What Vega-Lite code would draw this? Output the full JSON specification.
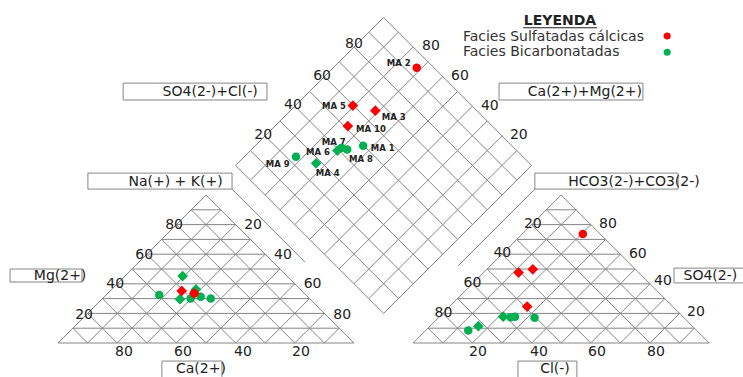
{
  "$schema": "https://vega.github.io/schema/vega-lite/v6.json",
  "width": 743,
  "height": 377,
  "autosize": "none",
  "padding": 0,
  "background": "white",
  "config": {
    "view": {"stroke": null},
    "text": {"font": "DejaVu Sans", "fontSize": 14, "fill": "#222222"}
  },
  "datasets": {
    "grid": [
      {"x": 0, "y": 0, "x2": 100, "y2": 0}, {"x": 0, "y": 0, "x2": 50, "y2": 50}, {"x": 100, "y": 0, "x2": 50, "y2": 50},
      {"x": 5, "y": 5, "x2": 95, "y2": 5}, {"x": 10, "y": 10, "x2": 90, "y2": 10}, {"x": 15, "y": 15, "x2": 85, "y2": 15},
      {"x": 20, "y": 20, "x2": 80, "y2": 20}, {"x": 25, "y": 25, "x2": 75, "y2": 25}, {"x": 30, "y": 30, "x2": 70, "y2": 30},
      {"x": 35, "y": 35, "x2": 65, "y2": 35}, {"x": 40, "y": 40, "x2": 60, "y2": 40}, {"x": 45, "y": 45, "x2": 55, "y2": 45},
      {"x": 10, "y": 0, "x2": 5, "y2": 5}, {"x": 20, "y": 0, "x2": 10, "y2": 10}, {"x": 30, "y": 0, "x2": 15, "y2": 15},
      {"x": 40, "y": 0, "x2": 20, "y2": 20}, {"x": 50, "y": 0, "x2": 25, "y2": 25}, {"x": 60, "y": 0, "x2": 30, "y2": 30},
      {"x": 70, "y": 0, "x2": 35, "y2": 35}, {"x": 80, "y": 0, "x2": 40, "y2": 40}, {"x": 90, "y": 0, "x2": 45, "y2": 45},
      {"x": 10, "y": 0, "x2": 55, "y2": 45}, {"x": 20, "y": 0, "x2": 60, "y2": 40}, {"x": 30, "y": 0, "x2": 65, "y2": 35},
      {"x": 40, "y": 0, "x2": 70, "y2": 30}, {"x": 50, "y": 0, "x2": 75, "y2": 25}, {"x": 60, "y": 0, "x2": 80, "y2": 20},
      {"x": 70, "y": 0, "x2": 85, "y2": 15}, {"x": 80, "y": 0, "x2": 90, "y2": 10}, {"x": 90, "y": 0, "x2": 95, "y2": 5},
      {"x": 120, "y": 0, "x2": 220, "y2": 0}, {"x": 120, "y": 0, "x2": 170, "y2": 50}, {"x": 220, "y": 0, "x2": 170, "y2": 50},
      {"x": 125, "y": 5, "x2": 215, "y2": 5}, {"x": 130, "y": 10, "x2": 210, "y2": 10}, {"x": 135, "y": 15, "x2": 205, "y2": 15},
      {"x": 140, "y": 20, "x2": 200, "y2": 20}, {"x": 145, "y": 25, "x2": 195, "y2": 25}, {"x": 150, "y": 30, "x2": 190, "y2": 30},
      {"x": 155, "y": 35, "x2": 185, "y2": 35}, {"x": 160, "y": 40, "x2": 180, "y2": 40}, {"x": 165, "y": 45, "x2": 175, "y2": 45},
      {"x": 130, "y": 0, "x2": 125, "y2": 5}, {"x": 140, "y": 0, "x2": 130, "y2": 10}, {"x": 150, "y": 0, "x2": 135, "y2": 15},
      {"x": 160, "y": 0, "x2": 140, "y2": 20}, {"x": 170, "y": 0, "x2": 145, "y2": 25}, {"x": 180, "y": 0, "x2": 150, "y2": 30},
      {"x": 190, "y": 0, "x2": 155, "y2": 35}, {"x": 200, "y": 0, "x2": 160, "y2": 40}, {"x": 210, "y": 0, "x2": 165, "y2": 45},
      {"x": 130, "y": 0, "x2": 175, "y2": 45}, {"x": 140, "y": 0, "x2": 180, "y2": 40}, {"x": 150, "y": 0, "x2": 185, "y2": 35},
      {"x": 160, "y": 0, "x2": 190, "y2": 30}, {"x": 170, "y": 0, "x2": 195, "y2": 25}, {"x": 180, "y": 0, "x2": 200, "y2": 20},
      {"x": 190, "y": 0, "x2": 205, "y2": 15}, {"x": 200, "y": 0, "x2": 210, "y2": 10}, {"x": 210, "y": 0, "x2": 215, "y2": 5},
      {"x": 110, "y": 10, "x2": 60, "y2": 60}, {"x": 115, "y": 15, "x2": 65, "y2": 65}, {"x": 120, "y": 20, "x2": 70, "y2": 70},
      {"x": 125, "y": 25, "x2": 75, "y2": 75}, {"x": 130, "y": 30, "x2": 80, "y2": 80}, {"x": 135, "y": 35, "x2": 85, "y2": 85},
      {"x": 140, "y": 40, "x2": 90, "y2": 90}, {"x": 145, "y": 45, "x2": 95, "y2": 95}, {"x": 150, "y": 50, "x2": 100, "y2": 100},
      {"x": 155, "y": 55, "x2": 105, "y2": 105}, {"x": 160, "y": 60, "x2": 110, "y2": 110},
      {"x": 110, "y": 10, "x2": 160, "y2": 60}, {"x": 105, "y": 15, "x2": 155, "y2": 65}, {"x": 100, "y": 20, "x2": 150, "y2": 70},
      {"x": 95, "y": 25, "x2": 145, "y2": 75}, {"x": 90, "y": 30, "x2": 140, "y2": 80}, {"x": 85, "y": 35, "x2": 135, "y2": 85},
      {"x": 80, "y": 40, "x2": 130, "y2": 90}, {"x": 75, "y": 45, "x2": 125, "y2": 95}, {"x": 70, "y": 50, "x2": 120, "y2": 100},
      {"x": 65, "y": 55, "x2": 115, "y2": 105}, {"x": 60, "y": 60, "x2": 110, "y2": 110},
      {"x": 58.8, "y": 52.0, "x2": 83.4, "y2": 27.4}, {"x": 161.1, "y": 52.0, "x2": 135.1, "y2": 26.0}
    ],
    "boxes": [
      {"x": 22.0, "x2": 70.6, "y": 82.1, "y2": 87.8},
      {"x": 149.0, "x2": 197.6, "y": 82.1, "y2": 87.8},
      {"x": 10.1, "x2": 58.8, "y": 52.0, "y2": 57.4},
      {"x": 161.1, "x2": 209.5, "y": 52.0, "y2": 57.4},
      {"x": -16.2, "x2": 8.1, "y": 20.6, "y2": 25.0},
      {"x": 35.1, "x2": 55.4, "y": -13.0, "y2": -6.1},
      {"x": 208.1, "x2": 233.0, "y": 20.3, "y2": 25.3},
      {"x": 155.4, "x2": 175.3, "y": -13.0, "y2": -6.1}
    ],
    "labels": [
      {"x": 51.4, "y": 84.8, "t": "SO4(2-)+Cl(-)"},
      {"x": 178.0, "y": 84.8, "t": "Ca(2+)+Mg(2+)"},
      {"x": 39.7, "y": 54.4, "t": "Na(+) + K(+)"},
      {"x": 194.6, "y": 54.4, "t": "HCO3(2-)+CO3(2-)"},
      {"x": 0.7, "y": 22.6, "t": "Mg(2+)"},
      {"x": 48.3, "y": -8.9, "t": "Ca(2+)"},
      {"x": 220.4, "y": 22.6, "t": "SO4(2-)"},
      {"x": 167.9, "y": -8.9, "t": "Cl(-)"},
      {"x": 39.2, "y": 39.9, "t": "80"}, {"x": 29.1, "y": 29.7, "t": "60"}, {"x": 19.3, "y": 19.9, "t": "40"}, {"x": 8.8, "y": 9.6, "t": "20"},
      {"x": 65.9, "y": 39.9, "t": "20"}, {"x": 76.0, "y": 29.7, "t": "40"}, {"x": 86.0, "y": 19.8, "t": "60"}, {"x": 96.0, "y": 9.6, "t": "80"},
      {"x": 22.3, "y": -2.9, "t": "80"}, {"x": 42.2, "y": -2.9, "t": "60"}, {"x": 62.5, "y": -2.9, "t": "40"}, {"x": 82.1, "y": -2.9, "t": "20"},
      {"x": 160.4, "y": 40.3, "t": "20"}, {"x": 150.1, "y": 30.3, "t": "40"}, {"x": 140.0, "y": 20.4, "t": "60"}, {"x": 130.2, "y": 10.2, "t": "80"},
      {"x": 185.8, "y": 40.3, "t": "80"}, {"x": 195.9, "y": 30.1, "t": "60"}, {"x": 204.4, "y": 21.1, "t": "40"}, {"x": 215.5, "y": 10.5, "t": "20"},
      {"x": 141.9, "y": -2.9, "t": "20"}, {"x": 162.5, "y": -2.9, "t": "40"}, {"x": 182.1, "y": -2.9, "t": "60"}, {"x": 202.0, "y": -2.9, "t": "80"},
      {"x": 100.0, "y": 101.0, "t": "80"}, {"x": 89.2, "y": 90.2, "t": "60"}, {"x": 79.4, "y": 80.4, "t": "40"}, {"x": 69.3, "y": 70.3, "t": "20"},
      {"x": 126.0, "y": 100.3, "t": "80"}, {"x": 135.8, "y": 90.2, "t": "60"}, {"x": 145.9, "y": 80.1, "t": "40"}, {"x": 155.7, "y": 70.3, "t": "20"}
    ],
    "ma": [
      {"x": 111.1, "y": 94.7, "t": "MA 2"},
      {"x": 89.2, "y": 80.1, "t": "MA 5"},
      {"x": 109.4, "y": 76.5, "t": "MA 3"},
      {"x": 100.7, "y": 72.2, "t": "MA 10"},
      {"x": 89.1, "y": 68.0, "t": "MA 7"},
      {"x": 83.8, "y": 64.6, "t": "MA 6"},
      {"x": 98.3, "y": 62.1, "t": "MA 8"},
      {"x": 105.7, "y": 66.0, "t": "MA 1"},
      {"x": 70.2, "y": 60.4, "t": "MA 9"},
      {"x": 87.1, "y": 57.3, "t": "MA 4"}
    ],
    "points": [
      {"x": 42.1, "y": 22.6, "facies": "Facies Bicarbonatadas", "shape": "diamond"},
      {"x": 46.6, "y": 18.1, "facies": "Facies Bicarbonatadas", "shape": "diamond"},
      {"x": 34.2, "y": 16.2, "facies": "Facies Bicarbonatadas", "shape": "circle"},
      {"x": 41.2, "y": 14.8, "facies": "Facies Bicarbonatadas", "shape": "diamond"},
      {"x": 44.8, "y": 15.0, "facies": "Facies Bicarbonatadas", "shape": "circle"},
      {"x": 48.2, "y": 15.6, "facies": "Facies Bicarbonatadas", "shape": "circle"},
      {"x": 51.6, "y": 15.0, "facies": "Facies Bicarbonatadas", "shape": "circle"},
      {"x": 150.4, "y": 8.9, "facies": "Facies Bicarbonatadas", "shape": "diamond"},
      {"x": 152.9, "y": 8.7, "facies": "Facies Bicarbonatadas", "shape": "circle"},
      {"x": 154.4, "y": 8.9, "facies": "Facies Bicarbonatadas", "shape": "circle"},
      {"x": 161.0, "y": 8.5, "facies": "Facies Bicarbonatadas", "shape": "circle"},
      {"x": 142.0, "y": 5.7, "facies": "Facies Bicarbonatadas", "shape": "diamond"},
      {"x": 138.6, "y": 4.2, "facies": "Facies Bicarbonatadas", "shape": "circle"},
      {"x": 94.4, "y": 65.0, "facies": "Facies Bicarbonatadas", "shape": "diamond"},
      {"x": 95.8, "y": 65.9, "facies": "Facies Bicarbonatadas", "shape": "circle"},
      {"x": 97.7, "y": 65.4, "facies": "Facies Bicarbonatadas", "shape": "circle"},
      {"x": 103.1, "y": 66.6, "facies": "Facies Bicarbonatadas", "shape": "circle"},
      {"x": 80.4, "y": 62.9, "facies": "Facies Bicarbonatadas", "shape": "circle"},
      {"x": 87.2, "y": 60.7, "facies": "Facies Bicarbonatadas", "shape": "diamond"},
      {"x": 46.0, "y": 16.8, "facies": "Facies Sulfatadas cálcicas", "shape": "circle"},
      {"x": 41.8, "y": 17.6, "facies": "Facies Sulfatadas cálcicas", "shape": "diamond"},
      {"x": 46.0, "y": 16.8, "facies": "Facies Sulfatadas cálcicas", "shape": "diamond"},
      {"x": 177.3, "y": 36.8, "facies": "Facies Sulfatadas cálcicas", "shape": "circle"},
      {"x": 155.6, "y": 23.8, "facies": "Facies Sulfatadas cálcicas", "shape": "diamond"},
      {"x": 160.4, "y": 24.9, "facies": "Facies Sulfatadas cálcicas", "shape": "diamond"},
      {"x": 158.5, "y": 12.3, "facies": "Facies Sulfatadas cálcicas", "shape": "diamond"},
      {"x": 121.2, "y": 93.0, "facies": "Facies Sulfatadas cálcicas", "shape": "circle"},
      {"x": 99.6, "y": 80.2, "facies": "Facies Sulfatadas cálcicas", "shape": "diamond"},
      {"x": 107.2, "y": 78.5, "facies": "Facies Sulfatadas cálcicas", "shape": "diamond"},
      {"x": 97.9, "y": 73.3, "facies": "Facies Sulfatadas cálcicas", "shape": "diamond"}
    ],
    "legendtext": [
      {"x": 136.8, "y": 103.5, "t": "Facies Sulfatadas cálcicas"},
      {"x": 136.8, "y": 98.4, "t": "Facies Bicarbonatadas"}
    ],
    "legenddots": [
      {"x": 205.8, "y": 103.7, "facies": "Facies Sulfatadas cálcicas"},
      {"x": 205.8, "y": 98.2, "facies": "Facies Bicarbonatadas"}
    ],
    "title": [{"x": 169.6, "y": 108.9, "t": "LEYENDA"}],
    "underline": [{"x": 157.1, "y": 106.5, "x2": 182.1, "y2": 106.5}]
  },
  "encoding": {
    "x": {"field": "x", "type": "quantitative", "scale": {"domain": [-19.595, 231.419], "nice": false, "zero": false}, "axis": null},
    "y": {"field": "y", "type": "quantitative", "scale": {"domain": [-11.486, 115.878], "nice": false, "zero": false}, "axis": null}
  },
  "layer": [
    {
      "data": {"name": "grid"},
      "mark": {"type": "rule", "color": "#858585", "strokeWidth": 1},
      "encoding": {"x2": {"field": "x2"}, "y2": {"field": "y2"}}
    },
    {
      "data": {"name": "boxes"},
      "mark": {"type": "rect", "fill": "white", "stroke": "#858585", "strokeWidth": 1},
      "encoding": {"x2": {"field": "x2"}, "y2": {"field": "y2"}}
    },
    {
      "data": {"name": "labels"},
      "mark": {"type": "text", "align": "center", "baseline": "middle"},
      "encoding": {"text": {"field": "t"}}
    },
    {
      "data": {"name": "ma"},
      "mark": {"type": "text", "align": "left", "baseline": "middle", "fontSize": 8.5, "fontWeight": "bold"},
      "encoding": {"text": {"field": "t"}}
    },
    {
      "data": {"name": "legendtext"},
      "mark": {"type": "text", "align": "left", "baseline": "middle", "fill": "#333333"},
      "encoding": {"text": {"field": "t"}}
    },
    {
      "data": {"name": "title"},
      "mark": {"type": "text", "align": "center", "baseline": "middle", "fontWeight": "bold"},
      "encoding": {"text": {"field": "t"}}
    },
    {
      "data": {"name": "underline"},
      "mark": {"type": "rule", "color": "#222222", "strokeWidth": 1.2},
      "encoding": {"x2": {"field": "x2"}, "y2": {"field": "y2"}}
    },
    {
      "data": {"name": "points"},
      "mark": {"type": "point", "filled": true, "opacity": 1},
      "encoding": {
        "color": {"field": "facies", "type": "nominal", "scale": {"domain": ["Facies Sulfatadas cálcicas", "Facies Bicarbonatadas"], "range": ["#ff0000", "#00b050"]}, "legend": null},
        "shape": {"field": "shape", "type": "nominal", "scale": {"domain": ["circle", "diamond"], "range": ["circle", "diamond"]}, "legend": null},
        "size": {"field": "shape", "type": "ordinal", "scale": {"domain": ["circle", "diamond"], "range": [72, 115]}, "legend": null}
      }
    },
    {
      "data": {"name": "legenddots"},
      "mark": {"type": "point", "filled": true, "opacity": 1, "shape": "circle", "size": 50},
      "encoding": {
        "color": {"field": "facies", "type": "nominal", "scale": {"domain": ["Facies Sulfatadas cálcicas", "Facies Bicarbonatadas"], "range": ["#ff0000", "#00b050"]}, "legend": null}
      }
    }
  ]
}
